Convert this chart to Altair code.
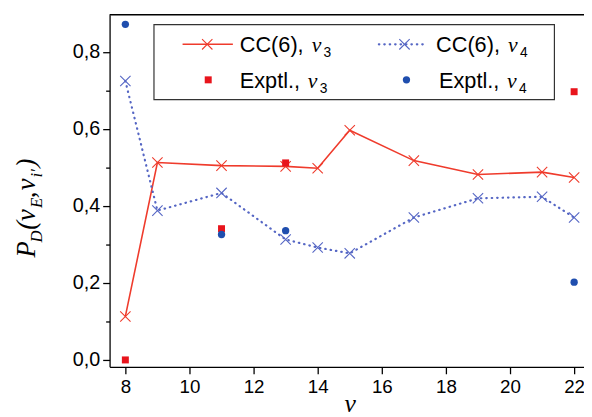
import altair as alt
import pandas as pd

# ---- data ----
x_cc = [8, 9, 11, 13, 14, 15, 17, 19, 21, 22]
cc_v3 = [0.113, 0.513, 0.505, 0.503, 0.498, 0.597, 0.518, 0.482, 0.488, 0.474]
cc_v4 = [0.725, 0.388, 0.434, 0.313, 0.292, 0.277, 0.370, 0.420, 0.424, 0.370]
x_exp = [8, 11, 13, 22]
exp_v3 = [0.0, 0.341, 0.512, 0.697]
exp_v4 = [0.872, 0.326, 0.336, 0.202]

x_ticks = [8, 9, 10, 11, 12, 13, 14, 15, 16, 17, 18, 19, 20, 21, 22]
y_ticks = [0.0, 0.1, 0.2, 0.3, 0.4, 0.5, 0.6, 0.7, 0.8]

RED_LINE = "#ef3b2c"
RED_SQ = "#e8141c"
BLUE_LINE = "#5566c4"
BLUE_DOT = "#1f4eae"
XPATH = "M-1,-1L1,1M1,-1L-1,1"

W, H = 481, 357

df_cc = pd.DataFrame({"x": x_cc, "v3": cc_v3, "v4": cc_v4})
df_exp = pd.DataFrame({"x": x_exp, "v3": exp_v3, "v4": exp_v4})

xscale = alt.Scale(domain=[7.508, 22.308], nice=False, zero=False)
yscale = alt.Scale(domain=[-0.018, 0.897], nice=False, zero=False)

x_axis = alt.Axis(
    values=x_ticks, title=None,
    labelExpr="datum.value % 2 == 0 ? datum.label : ''",
    tickSize={"condition": {"test": "datum.value % 2 == 0", "value": 7}, "value": 4},
    labelFont="Liberation Sans", labelFontSize=19, labelColor="black",
    labelPadding=4, domainColor="black", domainWidth=1.3, tickColor="black",
    tickWidth=1.3, grid=False, labelFlush=False,
)
y_axis = alt.Axis(
    values=y_ticks, title=None,
    labelExpr="round(datum.value*10) % 2 == 0 ? replace(format(datum.value, '.1f'), '.', ',') : ''",
    tickSize={"condition": {"test": "round(datum.value*10) % 2 == 0", "value": 7}, "value": 4},
    labelFont="Liberation Sans", labelFontSize=20, labelColor="black",
    labelPadding=3, domainColor="black", domainWidth=1.3, tickColor="black",
    tickWidth=1.3, grid=False, labelFlush=False,
)

base_cc = alt.Chart(df_cc)
base_exp = alt.Chart(df_exp)

line3 = base_cc.mark_line(color=RED_LINE, strokeWidth=1.6).encode(
    x=alt.X("x:Q", scale=xscale, axis=x_axis),
    y=alt.Y("v3:Q", scale=yscale, axis=y_axis),
)
pts3 = base_cc.mark_point(shape=XPATH, filled=False, size=110, color=RED_LINE, strokeWidth=1.1, opacity=1).encode(
    x=alt.X("x:Q", scale=xscale), y=alt.Y("v3:Q", scale=yscale))
line4 = base_cc.mark_line(color=BLUE_LINE, strokeWidth=2.2, strokeDash=[0.5, 5], strokeCap="round").encode(
    x=alt.X("x:Q", scale=xscale), y=alt.Y("v4:Q", scale=yscale))
pts4 = base_cc.mark_point(shape=XPATH, filled=False, size=110, color=BLUE_LINE, strokeWidth=1.1, opacity=1).encode(
    x=alt.X("x:Q", scale=xscale), y=alt.Y("v4:Q", scale=yscale))
exp3 = base_exp.mark_point(shape="square", filled=True, size=50, color=RED_SQ, opacity=1).encode(
    x=alt.X("x:Q", scale=xscale), y=alt.Y("v3:Q", scale=yscale))
exp4 = base_exp.mark_point(shape="circle", filled=True, size=55, color=BLUE_DOT, opacity=1).encode(
    x=alt.X("x:Q", scale=xscale), y=alt.Y("v4:Q", scale=yscale))

one = alt.Data(values=[{"a": 1}])


def txt(s, x, y, size, font="Liberation Sans", style="normal", angle=0, align="left", baseline="middle", color="black"):
    kw = dict(text=s, fontSize=size, font=font, fontStyle=style, align=align, baseline=baseline, color=color)
    if angle:
        kw["angle"] = angle
    return alt.Chart(one).mark_text(**kw).encode(x=alt.value(x), y=alt.value(y))


frame_top = alt.Chart(one).mark_rule(color="black", strokeWidth=1.3).encode(
    x=alt.value(0), x2=alt.value(W), y=alt.value(0))

# legend
leg_box = alt.Chart(one).mark_rect(fill="white", stroke="#333333", strokeWidth=1.2).encode(
    x=alt.value(45), x2=alt.value(451), y=alt.value(10), y2=alt.value(86))
leg_l1 = alt.Chart(one).mark_rule(color=RED_LINE, strokeWidth=1.6).encode(
    x=alt.value(74), x2=alt.value(125), y=alt.value(30))
leg_p1 = alt.Chart(one).mark_point(shape=XPATH, filled=False, size=110, color=RED_LINE, strokeWidth=1.1, opacity=1).encode(
    x=alt.value(99), y=alt.value(30))
leg_l2 = alt.Chart(one).mark_rule(color=BLUE_LINE, strokeWidth=2.2, strokeDash=[0.5, 5], strokeCap="round").encode(
    x=alt.value(273), x2=alt.value(322), y=alt.value(30))
leg_p2 = alt.Chart(one).mark_point(shape=XPATH, filled=False, size=110, color=BLUE_LINE, strokeWidth=1.1, opacity=1).encode(
    x=alt.value(299), y=alt.value(30))
leg_p3 = alt.Chart(one).mark_point(shape="square", filled=True, size=50, color=RED_SQ, opacity=1).encode(
    x=alt.value(100), y=alt.value(66))
leg_p4 = alt.Chart(one).mark_point(shape="circle", filled=True, size=55, color=BLUE_DOT, opacity=1).encode(
    x=alt.value(301), y=alt.value(66))

LF = 22
legend_texts = [
    txt("CC(6),", 132, 31, LF), txt("ν", 205, 31, LF, "Liberation Serif", "italic"), txt("3", 217, 39, 14),
    txt("CC(6),", 331, 31, LF), txt("ν", 404, 31, LF, "Liberation Serif", "italic"), txt("4", 416, 39, 14),
    txt("Exptl.,", 132, 67, LF), txt("ν", 201, 67, LF, "Liberation Serif", "italic"), txt("3", 213, 75, 14),
    txt("Exptl.,", 334, 67, LF), txt("ν", 403, 67, LF, "Liberation Serif", "italic"), txt("4", 415, 75, 14),
]

# axis titles
x_title = txt("ν", 244, 403, 26, "Liberation Serif", "italic", align="center", baseline="alphabetic")
YB, YS = -76, -69
MF, SF = 27, 17
y_title = [
    txt("P", YB, 246, MF, "Liberation Serif", "italic", angle=270, baseline="alphabetic"),
    txt("D", YS, 231, SF, "Liberation Serif", "italic", angle=270, baseline="alphabetic"),
    txt("(", YB, 218, MF, "Liberation Serif", "italic", angle=270, baseline="alphabetic"),
    txt("ν", YB, 209, MF, "Liberation Serif", "italic", angle=270, baseline="alphabetic"),
    txt("E", YS, 196, SF, "Liberation Serif", "italic", angle=270, baseline="alphabetic"),
    txt(",", YB, 186, MF, "Liberation Serif", "italic", angle=270, baseline="alphabetic"),
    txt("ν", YB, 178, MF, "Liberation Serif", "italic", angle=270, baseline="alphabetic"),
    txt("i′", YS, 165, SF, "Liberation Serif", "italic", angle=270, baseline="alphabetic"),
    txt(")", YB, 155, MF, "Liberation Serif", "italic", angle=270, baseline="alphabetic"),
]

chart = alt.layer(
    line3, line4, pts3, pts4, exp3, exp4, frame_top,
    leg_box, leg_l1, leg_p1, leg_l2, leg_p2, leg_p3, leg_p4,
    *legend_texts, x_title, *y_title,
).properties(
    width=W, height=H,
    padding={"left": 103, "top": 4, "right": 0, "bottom": 48},
    autosize="none",
    background="white",
).configure_view(stroke=None)

chart.save("out.html", embed_options={"renderer": "svg", "actions": False})
